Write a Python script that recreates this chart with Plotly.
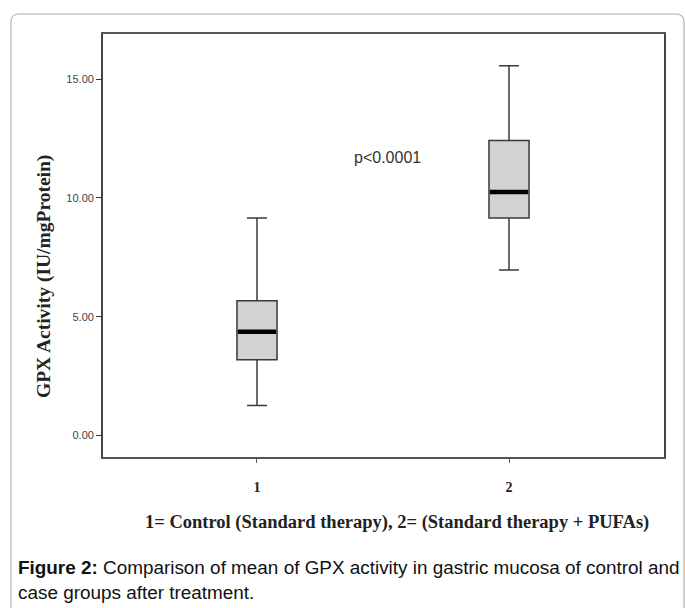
import plotly.graph_objects as go

# ---- data ----
groups = [1, 2]
group_labels = ["1", "2"]
lower_whisker = [1.27, 6.97]
q1 = [3.19, 9.16]
median = [4.37, 10.25]
q3 = [5.67, 12.42]
upper_whisker = [9.16, 15.56]
y_ticks = [0, 5, 10, 15]
y_tick_labels = ["0.00", "5.00", "10.00", "15.00"]

W, H = 685, 608
L, R, T, B = 103, 664, 34, 457  # plot area in pixels
BOX_W = 0.159


def px(x):
    return (x - L) / (R - L)


def py(y):
    return (B - y) / (B - T)


fig = go.Figure()
fig.add_trace(go.Box(
    x=groups, q1=q1, median=median, q3=q3,
    lowerfence=lower_whisker, upperfence=upper_whisker,
    width=BOX_W, whiskerwidth=0.5,
    fillcolor="#d2d2d2",
    line=dict(color="#3a3a3a", width=1.5),
    boxpoints=False, hoverinfo="skip", showlegend=False,
))
# thick median bars
for g, m in zip(groups, median):
    fig.add_trace(go.Scatter(
        x=[g - BOX_W / 2 + 0.004, g + BOX_W / 2 - 0.004], y=[m, m], mode="lines",
        line=dict(color="#000000", width=4.5), showlegend=False, hoverinfo="skip",
    ))

fig.update_layout(
    width=W, height=H,
    margin=dict(l=L, r=W - R, t=T, b=H - B),
    paper_bgcolor="white", plot_bgcolor="white",
    showlegend=False,
    xaxis=dict(
        range=[0.389, 2.615], tickvals=groups,
        ticktext=["<b>%s</b>" % s for s in group_labels],
        ticks="outside", ticklen=4, tickcolor="#555", tickwidth=1,
        tickfont=dict(family="Liberation Serif", size=14, color="#222"),
        ticklabelstandoff=12,
        showgrid=False, zeroline=False,
        showline=True, linecolor="#555", linewidth=1.8, mirror=True,
    ),
    yaxis=dict(
        range=[-0.9, 16.9], tickvals=y_ticks, ticktext=y_tick_labels,
        ticks="outside", ticklen=5, tickcolor="#333", tickwidth=1.2,
        tickfont=dict(family="Liberation Sans Narrow, Liberation Sans", size=11, color="#444"),
        showgrid=False, zeroline=False,
        showline=True, linecolor="#444", linewidth=1.8, mirror=True,
    ),
)

# outer rounded frame
x0, y0, x1, y1 = px(11), py(14), px(684), py(612)
rx, ry = 8 / (R - L), 8 / (B - T)
fig.add_shape(
    type="path", xref="paper", yref="paper",
    path=f"M {x0},{y1} L {x0},{y0 - ry} Q {x0},{y0} {x0 + rx},{y0} L {x1 - rx},{y0} Q {x1},{y0} {x1},{y0 - ry} L {x1},{y1}",
    line=dict(color="#b0b0b0", width=1.2),
)

common = dict(xref="paper", yref="paper", showarrow=False, yanchor="middle")
ann = []
ann.append(dict(x=px(387), y=py(157), xanchor="center", text="p<0.0001",
                font=dict(family="Liberation Sans", size=16, color="#333"), **common))
ann.append(dict(x=px(44), y=py(277), xanchor="center",
                text="<b>GPX Activity (IU/mgProtein)</b>", textangle=-90,
                font=dict(family="Liberation Serif", size=19.5, color="#222"), **common))
ann.append(dict(x=px(397), y=py(522), xanchor="center",
                text="<b>1= Control (Standard therapy), 2= (Standard therapy + PUFAs)</b>",
                font=dict(family="Liberation Serif", size=18.5, color="#222"), **common))
ann.append(dict(x=px(16), y=py(567), xanchor="left",
                text="<b>Figure 2:</b> Comparison of mean of GPX activity in gastric mucosa of control and",
                font=dict(family="Liberation Sans", size=18.9, color="#111"), **common))
ann.append(dict(x=px(16), y=py(592), xanchor="left",
                text="case groups after treatment.",
                font=dict(family="Liberation Sans", size=18.9, color="#111"), **common))
fig.update_layout(annotations=ann)

fig.write_html("out.html")
